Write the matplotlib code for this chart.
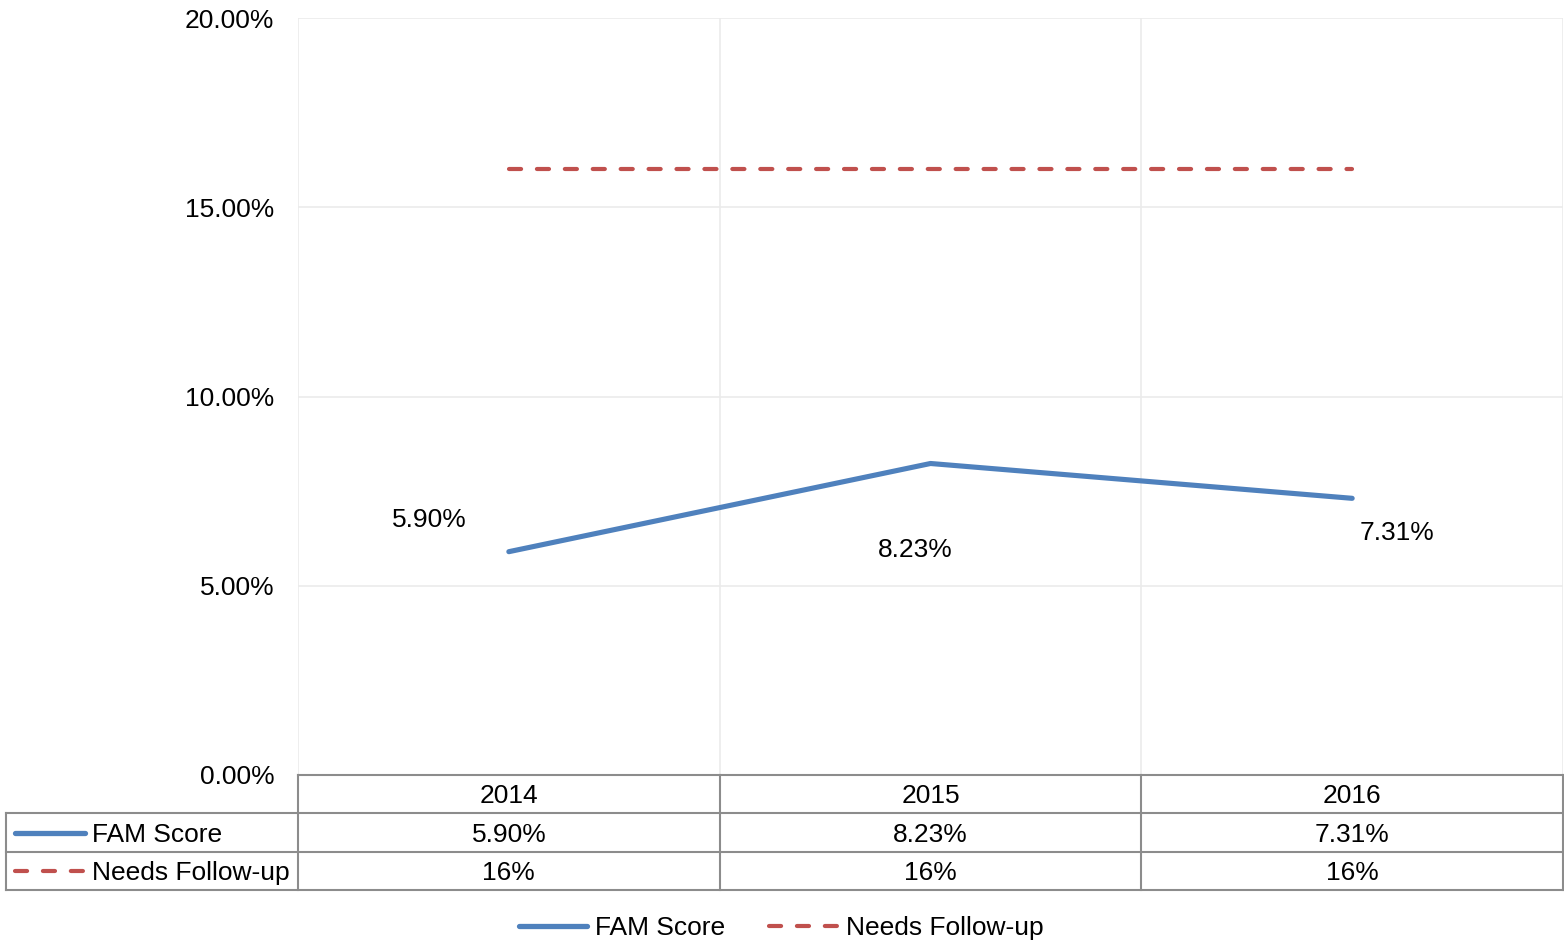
import matplotlib
matplotlib.use("Agg")
import matplotlib.pyplot as plt
from matplotlib.ticker import PercentFormatter
from matplotlib.lines import Line2D

plt.rcParams['font.family'] = ['Liberation Sans', 'DejaVu Sans']

## DATA
years = ["2014", "2015", "2016"]
fam_score = [5.90, 8.23, 7.31]
follow_up = [16, 16, 16]
fam_labels = ["5.90%", "8.23%", "7.31%"]
follow_labels = ["16%", "16%", "16%"]
series_names = ["FAM Score", "Needs Follow-up"]

## STYLE
BLUE = "#4F81BD"
RED = "#C0504D"
GRID = "#EBEBEB"
TABLE = "#8C8C8C"
FS = 19
DASH = (2.9, 3.8)
W, H = 1564, 947


def box(x0, y0, x1, y1):
    # pixel box -> figure fraction rect
    return [x0 / W, 1 - y1 / H, (x1 - x0) / W, (y1 - y0) / H]


fig = plt.figure(figsize=(W / 100, H / 100), dpi=100)
ax = fig.add_axes(box(298, 18, 1563, 775))

x = range(len(years))
ax.plot(x, fam_score, color=BLUE, lw=3.7, solid_capstyle="round", zorder=3)
ax.plot(x, follow_up, color=RED, lw=3.0, dashes=DASH, dash_capstyle="round", zorder=3)

# data labels, offset like the original
offsets = [(-57, 23), (-11, -62), (32, -25)]
for i, (v, lab) in enumerate(zip(fam_score, fam_labels)):
    ax.annotate(lab, (i, v), xytext=offsets[i], textcoords="offset points",
                ha="center", va="center", fontsize=FS)

ax.set_xlim(-0.5, len(years) - 0.5)
ax.set_ylim(0, 20)
ax.set_yticks([0, 5, 10, 15, 20])
ax.yaxis.set_major_formatter(PercentFormatter(decimals=2))
ax.set_xticks([i - 0.5 for i in range(len(years) + 1)])
ax.set_xticklabels([])
ax.tick_params(axis="both", length=0, labelsize=FS)
ax.tick_params(axis="y", pad=17)
ax.grid(True, color=GRID, lw=1.2)
ax.set_axisbelow(True)
for s in ["top", "right", "left"]:
    ax.spines[s].set_visible(False)
ax.spines["bottom"].set_color(TABLE)
ax.spines["bottom"].set_linewidth(1.5)

# data table under the plot
tax = fig.add_axes(box(6, 775, 1563, 890))
cat_w = (1563 - 298) / len(years)
left = -0.5 - (298 - 6) / cat_w
tax.set_xlim(left, len(years) - 0.5)
tax.set_ylim(3, 0)
tax.axis("off")

lk = dict(color=TABLE, lw=1.5, clip_on=False)
for xv in [i - 0.5 for i in range(len(years) + 1)]:
    tax.plot([xv, xv], [0, 3], **lk)
tax.plot([left, left], [1, 3], **lk)
tax.plot([left, len(years) - 0.5], [1, 1], **lk)
tax.plot([left, len(years) - 0.5], [2, 2], **lk)
tax.plot([left, len(years) - 0.5], [3, 3], **lk)

dy = 0.06
for i, yr in enumerate(years):
    tax.text(i, 0.5 + dy, yr, ha="center", va="center", fontsize=FS)
for i, (a, b) in enumerate(zip(fam_labels, follow_labels)):
    tax.text(i, 1.5 + dy, a, ha="center", va="center", fontsize=FS)
    tax.text(i, 2.5 + dy, b, ha="center", va="center", fontsize=FS)

# legend keys inside the table
k0 = left + (15 - 6) / cat_w
k1 = left + (85 - 6) / cat_w
kt = left + (92 - 6) / cat_w
tax.plot([k0, k1], [1.5, 1.5], color=BLUE, lw=3.8, solid_capstyle="round", clip_on=False)
tax.plot([k0, k1], [2.5, 2.5], color=RED, lw=3.0, dashes=DASH,
         dash_capstyle="round", clip_on=False)
tax.text(kt, 1.5 + dy, series_names[0], ha="left", va="center", fontsize=FS)
tax.text(kt, 2.5 + dy, series_names[1], ha="left", va="center", fontsize=FS)

# bottom legend
handles = [
    Line2D([], [], color=BLUE, lw=3.8, solid_capstyle="round"),
    Line2D([], [], color=RED, lw=3.0, dashes=DASH, dash_capstyle="round"),
]
fig.legend(handles, series_names, loc="center", bbox_to_anchor=(781 / W, 1 - 928 / H),
           ncol=2, frameon=False, fontsize=FS, handlelength=2.6,
           handletextpad=0.3, columnspacing=1.65)

fig.savefig("out.png", dpi=100)
